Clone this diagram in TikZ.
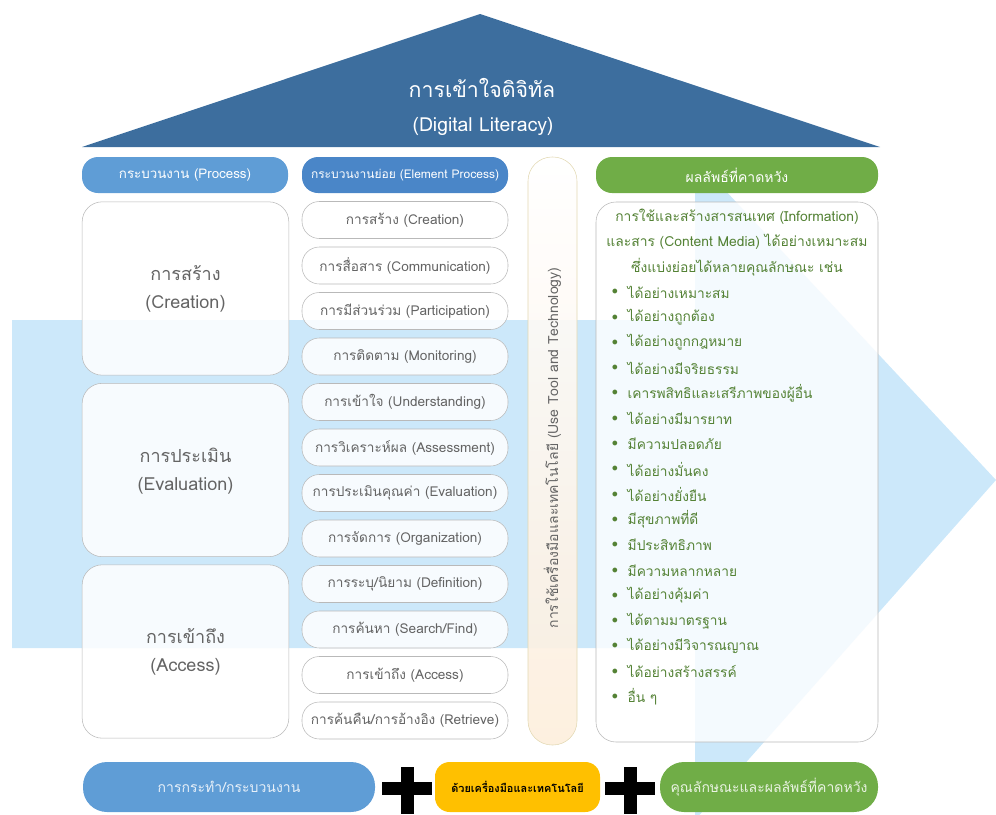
\documentclass[tikz,border=0pt]{standalone}
\usepackage{fontspec}
\newfontfamily\thaifont[Script=Thai]{Loma}
\usepackage{tikz}

\definecolor{roofblue}{RGB}{61,110,158}
\definecolor{headblue}{RGB}{95,157,214}
\definecolor{headblueb}{RGB}{74,134,200}
\definecolor{headgreen}{RGB}{112,173,71}
\definecolor{textgreen}{RGB}{84,130,53}
\definecolor{bandblue}{RGB}{204,232,250}
\definecolor{boxline}{RGB}{185,185,185}
\definecolor{boxtext}{RGB}{100,100,100}
\definecolor{tanline}{RGB}{226,216,178}
\definecolor{peach}{RGB}{253,238,220}
\definecolor{goldpill}{RGB}{255,192,0}

\tikzset{
  headpill/.style={fill=headblue, rounded corners=12pt, minimum width=154.5pt, minimum height=27pt, text=white, font=\thaifont\fontsize{10}{12}\selectfont},
  bigbox/.style={draw=boxline, fill=white, fill opacity=0.85, text opacity=1, rounded corners=15pt, minimum width=155pt, minimum height=130pt},
  bigtext/.style={text=boxtext, font=\thaifont\fontsize{13.5}{16}\selectfont},
  elpill/.style={draw=boxline, fill=white, fill opacity=0.85, text opacity=1, rounded corners=13pt, minimum width=154.5pt, minimum height=27.75pt, text=boxtext, font=\thaifont\fontsize{10.2}{12}\selectfont},
  goodtext/.style={text=textgreen, anchor=west, font=\thaifont\fontsize{10.3}{12}\selectfont},
  dottext/.style={text=textgreen, font=\fontsize{9}{11}\selectfont},
  basepill/.style={minimum height=37.5pt, rounded corners=18pt, font=\thaifont\fontsize{10.5}{12}\selectfont}
}

\begin{document}
\begin{tikzpicture}[x=0.75pt,y=-0.75pt]
\useasboundingbox (0,0) rectangle (996,814);

\fill[bandblue] (12,320) -- (695,320) -- (695,158) -- (996,480) -- (695,820) -- (695,648) -- (12,648) -- cycle;

\fill[roofblue] (480,14) -- (880,147) -- (82,147) -- cycle;
\node[text=white, font=\thaifont\fontsize{16}{19}\selectfont] (title) at (482,88) {การเข้าใจดิจิทัล};
\node[text=white, font=\thaifont\fontsize{14.5}{17}\selectfont] (titleen) at (483,126) {(Digital Literacy)};

\node[headpill] (process) at (185,175) {กระบวนงาน (Process)};
\node[headpill, fill=headblueb, font=\thaifont\fontsize{9}{11}\selectfont] (element) at (405,175) {กระบวนงานย่อย (Element Process)};
\node[headpill, fill=headgreen, minimum width=211.5pt, font=\thaifont\fontsize{10.5}{12}\selectfont] (expect) at (737,175) {ผลลัพธ์ที่คาดหวัง};

\node[bigbox] (creation) at (185.5,288.5) {};
\node[bigtext] (creationth) at (185.5,273) {การสร้าง};
\node[bigtext] (creationen) at (185.5,304) {(Creation)};
\node[bigbox] (evaluation) at (185.5,470) {};
\node[bigtext] (evaluationth) at (185.5,455) {การประเมิน};
\node[bigtext] (evaluationen) at (185.5,486) {(Evaluation)};
\node[bigbox] (access) at (185.5,651.5) {};
\node[bigtext] (accessth) at (185.5,636) {การเข้าถึง};
\node[bigtext] (accessen) at (185.5,667) {(Access)};

\node[elpill] (e1) at (405,220) {การสร้าง (Creation)};
\node[elpill] (e2) at (405,265.5) {การสื่อสาร (Communication)};
\node[elpill] (e3) at (405,311) {การมีส่วนร่วม (Participation)};
\node[elpill] (e4) at (405,356.5) {การติดตาม (Monitoring)};
\node[elpill] (e5) at (405,402) {การเข้าใจ (Understanding)};
\node[elpill] (e6) at (405,447.5) {การวิเคราะห์ผล (Assessment)};
\node[elpill] (e7) at (405,493) {การประเมินคุณค่า (Evaluation)};
\node[elpill] (e8) at (405,538.5) {การจัดการ (Organization)};
\node[elpill] (e9) at (405,584) {การระบุ/นิยาม (Definition)};
\node[elpill] (e10) at (405,629.5) {การค้นหา (Search/Find)};
\node[elpill] (e11) at (405,675) {การเข้าถึง (Access)};
\node[elpill] (e12) at (405,720.5) {การค้นคืน/การอ้างอิง (Retrieve)};

\node[draw=tanline, top color=white, bottom color=peach, fill opacity=0.9, text opacity=1, rounded corners=18pt, minimum width=36.75pt, minimum height=441pt] (tools) at (552.5,451) {};
\node[rotate=90, text=boxtext, font=\thaifont\fontsize{10.5}{12}\selectfont] (toolstext) at (552.5,448) {การใช้เครื่องมือและเทคโนโลยี (Use Tool and Technology)};

\node[draw=boxline, fill=white, fill opacity=0.8, rounded corners=15pt, minimum width=211.5pt, minimum height=405pt] (results) at (737,472) {};
\node[text=textgreen, font=\thaifont\fontsize{10.4}{12}\selectfont] (r1) at (737,217) {การใช้และสร้างสารสนเทศ (Information)};
\node[text=textgreen, font=\thaifont\fontsize{10.4}{12}\selectfont] (r2) at (737,242) {และสาร (Content Media) ได้อย่างเหมาะสม};
\node[text=textgreen, font=\thaifont\fontsize{10.4}{12}\selectfont] (r3) at (737,267) {ซึ่งแบ่งย่อยได้หลายคุณลักษณะ เช่น};

\node[dottext] (d1) at (615,292) {$\bullet$};
\node[goodtext] (g1) at (623,292) {ได้อย่างเหมาะสม};
\node[dottext] (d2) at (615,317.3) {$\bullet$};
\node[goodtext] (g2) at (623,317.3) {ได้อย่างถูกต้อง};
\node[dottext] (d3) at (615,342.6) {$\bullet$};
\node[goodtext] (g3) at (623,342.6) {ได้อย่างถูกกฎหมาย};
\node[dottext] (d4) at (615,367.9) {$\bullet$};
\node[goodtext] (g4) at (623,367.9) {ได้อย่างมีจริยธรรม};
\node[dottext] (d5) at (615,393.2) {$\bullet$};
\node[goodtext] (g5) at (623,393.2) {เคารพสิทธิและเสรีภาพของผู้อื่น};
\node[dottext] (d6) at (615,418.5) {$\bullet$};
\node[goodtext] (g6) at (623,418.5) {ได้อย่างมีมารยาท};
\node[dottext] (d7) at (615,443.8) {$\bullet$};
\node[goodtext] (g7) at (623,443.8) {มีความปลอดภัย};
\node[dottext] (d8) at (615,469.1) {$\bullet$};
\node[goodtext] (g8) at (623,469.1) {ได้อย่างมั่นคง};
\node[dottext] (d9) at (615,494.4) {$\bullet$};
\node[goodtext] (g9) at (623,494.4) {ได้อย่างยั่งยืน};
\node[dottext] (d10) at (615,519.7) {$\bullet$};
\node[goodtext] (g10) at (623,519.7) {มีสุขภาพที่ดี};
\node[dottext] (d11) at (615,545) {$\bullet$};
\node[goodtext] (g11) at (623,545) {มีประสิทธิภาพ};
\node[dottext] (d12) at (615,570.3) {$\bullet$};
\node[goodtext] (g12) at (623,570.3) {มีความหลากหลาย};
\node[dottext] (d13) at (615,595.6) {$\bullet$};
\node[goodtext] (g13) at (623,595.6) {ได้อย่างคุ้มค่า};
\node[dottext] (d14) at (615,620.9) {$\bullet$};
\node[goodtext] (g14) at (623,620.9) {ได้ตามมาตรฐาน};
\node[dottext] (d15) at (615,646.2) {$\bullet$};
\node[goodtext] (g15) at (623,646.2) {ได้อย่างมีวิจารณญาณ};
\node[dottext] (d16) at (615,671.5) {$\bullet$};
\node[goodtext] (g16) at (623,671.5) {ได้อย่างสร้างสรรค์};
\node[dottext] (d17) at (615,696.8) {$\bullet$};
\node[goodtext] (g17) at (623,696.8) {อื่น ๆ};

\node[basepill, fill=headblue, text=white!85!headblue, minimum width=219pt] (doing) at (229,787) {การกระทำ/กระบวนงาน};
\node[basepill, fill=goldpill, rounded corners=11pt, minimum width=123.75pt, font=\thaifont\bfseries\fontsize{8.2}{10}\selectfont] (withtools) at (517.5,787) {ด้วยเครื่องมือและเทคโนโลยี};
\node[basepill, fill=headgreen, text=white!85!headgreen, minimum width=163.5pt, font=\thaifont\fontsize{10.5}{12}\selectfont] (quality) at (769,787) {คุณลักษณะและผลลัพธ์ที่คาดหวัง};

\fill[black] (400.5,767) rectangle (413.5,814);
\fill[black] (382,782) rectangle (432,795);
\fill[black] (623.5,767) rectangle (636.5,814);
\fill[black] (605,782) rectangle (655,795);

\end{tikzpicture}
\end{document}
